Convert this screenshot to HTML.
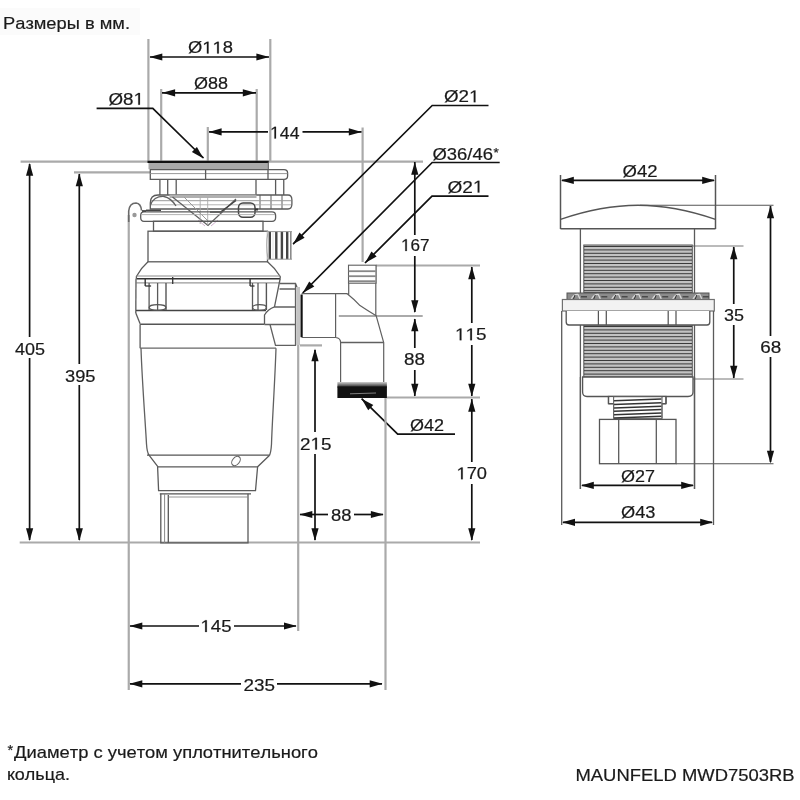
<!DOCTYPE html>
<html><head><meta charset="utf-8"><style>
html,body{margin:0;padding:0;background:#fff;}
svg{display:block;filter:blur(0.45px);}
text{font-family:"Liberation Sans",sans-serif;font-kerning:none;font-variant-ligatures:none;}
</style></head><body>
<svg width="800" height="800" viewBox="0 0 800 800">
<rect width="800" height="800" fill="#fff"/>
<rect x="0" y="8" width="140" height="27" fill="#fbfbfb"/>
<text x="3.00" y="29" font-size="17" fill="#1a1a1a" stroke="#1a1a1a" stroke-width="0.2" textLength="127.00" lengthAdjust="spacingAndGlyphs">Размеры в мм.</text>
<line x1="148.4" y1="39" x2="148.4" y2="162" stroke="#aaaaaa" stroke-width="2.2" />
<line x1="270.3" y1="39" x2="270.3" y2="162" stroke="#aaaaaa" stroke-width="2.2" />
<line x1="161.2" y1="89" x2="161.2" y2="162" stroke="#aaaaaa" stroke-width="2.2" />
<line x1="256.7" y1="89" x2="256.7" y2="162" stroke="#aaaaaa" stroke-width="2.2" />
<line x1="207.8" y1="127" x2="207.8" y2="162" stroke="#aaaaaa" stroke-width="2.2" />
<line x1="362.6" y1="127.5" x2="362.6" y2="262" stroke="#aaaaaa" stroke-width="2.2" />
<line x1="150" y1="57" x2="269" y2="57" stroke="#111" stroke-width="1.7" />
<polygon points="149.5,57.0 162.3,53.4 162.3,60.6" fill="#111"/>
<polygon points="269.2,57.0 256.4,53.4 256.4,60.6" fill="#111"/>
<path d="M515,0 L515,1237 L197,1010 L197,1180 L530,1409 L696,1409 L696,0 Z" transform="translate(202.308,53.4) scale(0.00898,-0.00830)" fill="#1a1a1a" stroke="#1a1a1a" stroke-width="0.2" vector-effect="non-scaling-stroke"/>
<path d="M515,0 L515,1237 L197,1010 L197,1180 L530,1409 L696,1409 L696,0 Z" transform="translate(212.539,53.4) scale(0.00898,-0.00830)" fill="#1a1a1a" stroke="#1a1a1a" stroke-width="0.2" vector-effect="non-scaling-stroke"/>
<text x="188.00" y="53.4" font-size="17" fill="#1a1a1a" stroke="#1a1a1a" stroke-width="0.2" textLength="45.00" lengthAdjust="spacingAndGlyphs">Ø  8</text>
<line x1="162" y1="92.8" x2="256" y2="92.8" stroke="#111" stroke-width="1.7" />
<polygon points="162.3,92.8 175.1,89.2 175.1,96.4" fill="#111"/>
<polygon points="255.6,92.8 242.8,89.2 242.8,96.4" fill="#111"/>
<text x="194.00" y="88.5" font-size="17" fill="#1a1a1a" stroke="#1a1a1a" stroke-width="0.2" textLength="34.00" lengthAdjust="spacingAndGlyphs">Ø88</text>
<path d="M96.6,108.4 L152.8,108.4 L203.5,158" stroke="#111" stroke-width="1.7" fill="none" />
<polygon points="203.5,158.5 196.9,146.9 191.9,152.1" fill="#111"/>
<path d="M515,0 L515,1237 L197,1010 L197,1180 L530,1409 L696,1409 L696,0 Z" transform="translate(133.555,104.7) scale(0.00917,-0.00830)" fill="#1a1a1a" stroke="#1a1a1a" stroke-width="0.2" vector-effect="non-scaling-stroke"/>
<text x="108.50" y="104.7" font-size="17" fill="#1a1a1a" stroke="#1a1a1a" stroke-width="0.2" textLength="35.50" lengthAdjust="spacingAndGlyphs">Ø8 </text>
<line x1="209" y1="131.9" x2="268" y2="131.9" stroke="#111" stroke-width="1.7" />
<line x1="302.5" y1="131.9" x2="361.5" y2="131.9" stroke="#111" stroke-width="1.7" />
<polygon points="208.8,131.9 221.6,128.3 221.6,135.5" fill="#111"/>
<polygon points="361.6,131.9 348.8,128.3 348.8,135.5" fill="#111"/>
<path d="M515,0 L515,1237 L197,1010 L197,1180 L530,1409 L696,1409 L696,0 Z" transform="translate(270.000,138.5) scale(0.00863,-0.00830)" fill="#1a1a1a" stroke="#1a1a1a" stroke-width="0.2" vector-effect="non-scaling-stroke"/>
<text x="270.00" y="138.5" font-size="17" fill="#1a1a1a" stroke="#1a1a1a" stroke-width="0.2" textLength="29.50" lengthAdjust="spacingAndGlyphs"> 44</text>
<line x1="20.6" y1="161.6" x2="423" y2="161.6" stroke="#aaaaaa" stroke-width="2.2" />
<line x1="74" y1="172.3" x2="150" y2="172.3" stroke="#aaaaaa" stroke-width="2.2" />
<line x1="19.7" y1="542.5" x2="480" y2="542.5" stroke="#aaaaaa" stroke-width="2.2" />
<line x1="29.6" y1="164" x2="29.6" y2="337" stroke="#111" stroke-width="1.7" />
<line x1="29.6" y1="358" x2="29.6" y2="540" stroke="#111" stroke-width="1.7" />
<polygon points="29.6,163.0 26.0,175.8 33.2,175.8" fill="#111"/>
<polygon points="29.6,541.0 26.0,528.2 33.2,528.2" fill="#111"/>
<text x="15.00" y="354.7" font-size="17" fill="#1a1a1a" stroke="#1a1a1a" stroke-width="0.2" textLength="30.00" lengthAdjust="spacingAndGlyphs">405</text>
<line x1="79.3" y1="174" x2="79.3" y2="364" stroke="#111" stroke-width="1.7" />
<line x1="79.3" y1="385" x2="79.3" y2="540" stroke="#111" stroke-width="1.7" />
<polygon points="79.3,173.5 75.7,186.3 82.9,186.3" fill="#111"/>
<polygon points="79.3,541.0 75.7,528.2 82.9,528.2" fill="#111"/>
<text x="65.00" y="381.7" font-size="17" fill="#1a1a1a" stroke="#1a1a1a" stroke-width="0.2" textLength="30.50" lengthAdjust="spacingAndGlyphs">395</text>
<path d="M488.5,105.5 L432.2,105.5 L293,244.2" stroke="#111" stroke-width="1.7" fill="none" />
<polygon points="293.0,244.2 304.6,237.7 299.5,232.6" fill="#111"/>
<path d="M515,0 L515,1237 L197,1010 L197,1180 L530,1409 L696,1409 L696,0 Z" transform="translate(469.055,102.2) scale(0.00917,-0.00830)" fill="#1a1a1a" stroke="#1a1a1a" stroke-width="0.2" vector-effect="non-scaling-stroke"/>
<text x="444.00" y="102.2" font-size="17" fill="#1a1a1a" stroke="#1a1a1a" stroke-width="0.2" textLength="35.50" lengthAdjust="spacingAndGlyphs">Ø2 </text>
<path d="M499.7,162.5 L432.2,162.5 L302.7,293" stroke="#111" stroke-width="1.7" fill="none" />
<polygon points="302.7,293.0 314.3,286.5 309.2,281.4" fill="#111"/>
<text x="432.50" y="159.5" font-size="17" fill="#1a1a1a" stroke="#1a1a1a" stroke-width="0.2" textLength="60.50" lengthAdjust="spacingAndGlyphs">Ø36/46</text>
<text x="493.6" y="157.2" font-size="13.5" fill="#1a1a1a" stroke="#1a1a1a" stroke-width="0.2">*</text>
<path d="M488.5,196.2 L432,196.2 L365,263" stroke="#111" stroke-width="1.7" fill="none" />
<polygon points="365.0,263.0 376.6,256.5 371.5,251.4" fill="#111"/>
<path d="M515,0 L515,1237 L197,1010 L197,1180 L530,1409 L696,1409 L696,0 Z" transform="translate(472.907,192.5) scale(0.00930,-0.00830)" fill="#1a1a1a" stroke="#1a1a1a" stroke-width="0.2" vector-effect="non-scaling-stroke"/>
<text x="447.50" y="192.5" font-size="17" fill="#1a1a1a" stroke="#1a1a1a" stroke-width="0.2" textLength="36.00" lengthAdjust="spacingAndGlyphs">Ø2 </text>
<line x1="376" y1="265.5" x2="480" y2="265.5" stroke="#aaaaaa" stroke-width="2.2" />
<line x1="338.8" y1="316" x2="422.7" y2="316" stroke="#aaaaaa" stroke-width="2.2" />
<line x1="386.4" y1="397.5" x2="480" y2="397.5" stroke="#aaaaaa" stroke-width="2.2" />
<line x1="300" y1="345.4" x2="322" y2="345.4" stroke="#aaaaaa" stroke-width="2.2" />
<line x1="414.8" y1="162" x2="414.8" y2="235" stroke="#111" stroke-width="1.7" />
<line x1="414.8" y1="256" x2="414.8" y2="312" stroke="#111" stroke-width="1.7" />
<polygon points="414.8,162.0 411.2,174.8 418.4,174.8" fill="#111"/>
<polygon points="414.8,313.0 411.2,300.2 418.4,300.2" fill="#111"/>
<path d="M515,0 L515,1237 L197,1010 L197,1180 L530,1409 L696,1409 L696,0 Z" transform="translate(401.000,251) scale(0.00834,-0.00830)" fill="#1a1a1a" stroke="#1a1a1a" stroke-width="0.2" vector-effect="non-scaling-stroke"/>
<text x="401.00" y="251" font-size="17" fill="#1a1a1a" stroke="#1a1a1a" stroke-width="0.2" textLength="28.50" lengthAdjust="spacingAndGlyphs"> 67</text>
<line x1="414.8" y1="319" x2="414.8" y2="348" stroke="#111" stroke-width="1.7" />
<line x1="414.8" y1="370" x2="414.8" y2="396" stroke="#111" stroke-width="1.7" />
<polygon points="414.8,318.5 411.2,331.3 418.4,331.3" fill="#111"/>
<polygon points="414.8,396.5 411.2,383.7 418.4,383.7" fill="#111"/>
<text x="404.00" y="365.3" font-size="17" fill="#1a1a1a" stroke="#1a1a1a" stroke-width="0.2" textLength="21.00" lengthAdjust="spacingAndGlyphs">88</text>
<line x1="471.8" y1="267" x2="471.8" y2="323" stroke="#111" stroke-width="1.7" />
<line x1="471.8" y1="345" x2="471.8" y2="396" stroke="#111" stroke-width="1.7" />
<polygon points="471.8,266.5 468.2,279.3 475.4,279.3" fill="#111"/>
<polygon points="471.8,396.5 468.2,383.7 475.4,383.7" fill="#111"/>
<path d="M515,0 L515,1237 L197,1010 L197,1180 L530,1409 L696,1409 L696,0 Z" transform="translate(455.000,340.2) scale(0.00922,-0.00830)" fill="#1a1a1a" stroke="#1a1a1a" stroke-width="0.2" vector-effect="non-scaling-stroke"/>
<path d="M515,0 L515,1237 L197,1010 L197,1180 L530,1409 L696,1409 L696,0 Z" transform="translate(465.500,340.2) scale(0.00922,-0.00830)" fill="#1a1a1a" stroke="#1a1a1a" stroke-width="0.2" vector-effect="non-scaling-stroke"/>
<text x="455.00" y="340.2" font-size="17" fill="#1a1a1a" stroke="#1a1a1a" stroke-width="0.2" textLength="31.50" lengthAdjust="spacingAndGlyphs">  5</text>
<line x1="471.8" y1="399" x2="471.8" y2="462" stroke="#111" stroke-width="1.7" />
<line x1="471.8" y1="484" x2="471.8" y2="540" stroke="#111" stroke-width="1.7" />
<polygon points="471.8,399.0 468.2,411.8 475.4,411.8" fill="#111"/>
<polygon points="471.8,541.0 468.2,528.2 475.4,528.2" fill="#111"/>
<path d="M515,0 L515,1237 L197,1010 L197,1180 L530,1409 L696,1409 L696,0 Z" transform="translate(456.500,479.2) scale(0.00893,-0.00830)" fill="#1a1a1a" stroke="#1a1a1a" stroke-width="0.2" vector-effect="non-scaling-stroke"/>
<text x="456.50" y="479.2" font-size="17" fill="#1a1a1a" stroke="#1a1a1a" stroke-width="0.2" textLength="30.50" lengthAdjust="spacingAndGlyphs"> 70</text>
<line x1="315" y1="350" x2="315" y2="432" stroke="#111" stroke-width="1.7" />
<line x1="315" y1="454" x2="315" y2="540" stroke="#111" stroke-width="1.7" />
<polygon points="315.0,348.5 311.4,361.3 318.6,361.3" fill="#111"/>
<polygon points="315.0,541.0 311.4,528.2 318.6,528.2" fill="#111"/>
<path d="M515,0 L515,1237 L197,1010 L197,1180 L530,1409 L696,1409 L696,0 Z" transform="translate(310.500,449.5) scale(0.00922,-0.00830)" fill="#1a1a1a" stroke="#1a1a1a" stroke-width="0.2" vector-effect="non-scaling-stroke"/>
<text x="300.00" y="449.5" font-size="17" fill="#1a1a1a" stroke="#1a1a1a" stroke-width="0.2" textLength="31.50" lengthAdjust="spacingAndGlyphs">2 5</text>
<line x1="300" y1="514.5" x2="328" y2="514.5" stroke="#111" stroke-width="1.7" />
<line x1="354" y1="514.5" x2="383" y2="514.5" stroke="#111" stroke-width="1.7" />
<polygon points="299.5,514.5 312.3,510.9 312.3,518.1" fill="#111"/>
<polygon points="383.7,514.5 370.9,510.9 370.9,518.1" fill="#111"/>
<text x="331.00" y="520.5" font-size="17" fill="#1a1a1a" stroke="#1a1a1a" stroke-width="0.2" textLength="20.50" lengthAdjust="spacingAndGlyphs">88</text>
<path d="M455,434.2 L397.7,434.2 L361.6,398.7" stroke="#111" stroke-width="1.7" fill="none" />
<polygon points="361.6,398.7 368.2,410.2 373.3,405.1" fill="#111"/>
<text x="410.00" y="430.6" font-size="17" fill="#1a1a1a" stroke="#1a1a1a" stroke-width="0.2" textLength="34.00" lengthAdjust="spacingAndGlyphs">Ø42</text>
<line x1="298.2" y1="345" x2="298.2" y2="631" stroke="#aaaaaa" stroke-width="2.2" />
<line x1="385.5" y1="397" x2="385.5" y2="690" stroke="#aaaaaa" stroke-width="2.2" />
<line x1="128.75" y1="215" x2="128.75" y2="690" stroke="#aaaaaa" stroke-width="2.2" />
<line x1="130" y1="626" x2="199" y2="626" stroke="#111" stroke-width="1.7" />
<line x1="234" y1="626" x2="296" y2="626" stroke="#111" stroke-width="1.7" />
<polygon points="129.5,626.0 142.3,622.4 142.3,629.6" fill="#111"/>
<polygon points="296.8,626.0 284.0,622.4 284.0,629.6" fill="#111"/>
<path d="M515,0 L515,1237 L197,1010 L197,1180 L530,1409 L696,1409 L696,0 Z" transform="translate(200.500,632) scale(0.00907,-0.00830)" fill="#1a1a1a" stroke="#1a1a1a" stroke-width="0.2" vector-effect="non-scaling-stroke"/>
<text x="200.50" y="632" font-size="17" fill="#1a1a1a" stroke="#1a1a1a" stroke-width="0.2" textLength="31.00" lengthAdjust="spacingAndGlyphs"> 45</text>
<line x1="130" y1="683.8" x2="241" y2="683.8" stroke="#111" stroke-width="1.7" />
<line x1="277" y1="683.8" x2="382" y2="683.8" stroke="#111" stroke-width="1.7" />
<polygon points="129.5,683.8 142.3,680.2 142.3,687.4" fill="#111"/>
<polygon points="382.5,683.8 369.7,680.2 369.7,687.4" fill="#111"/>
<text x="243.50" y="690.5" font-size="17" fill="#1a1a1a" stroke="#1a1a1a" stroke-width="0.2" textLength="31.50" lengthAdjust="spacingAndGlyphs">235</text>
<text x="14.00" y="757.5" font-size="17" fill="#1a1a1a" stroke="#1a1a1a" stroke-width="0.2" textLength="304.00" lengthAdjust="spacingAndGlyphs">Диаметр с учетом уплотнительного</text>
<text x="7.4" y="754.6" font-size="14.5" fill="#1a1a1a" stroke="#1a1a1a" stroke-width="0.2">*</text>
<text x="7.00" y="779.5" font-size="17" fill="#1a1a1a" stroke="#1a1a1a" stroke-width="0.2" textLength="63.00" lengthAdjust="spacingAndGlyphs">кольца.</text>
<text x="575.50" y="780.5" font-size="17" fill="#1a1a1a" stroke="#1a1a1a" stroke-width="0.2" textLength="219.00" lengthAdjust="spacingAndGlyphs">MAUNFELD MWD7503RB</text>
<line x1="560.5" y1="175" x2="560.5" y2="229" stroke="#555" stroke-width="1.5" />
<line x1="715.5" y1="175" x2="715.5" y2="229" stroke="#555" stroke-width="1.5" />
<line x1="562" y1="180.4" x2="714" y2="180.4" stroke="#111" stroke-width="1.7" />
<polygon points="561.0,180.4 573.8,176.8 573.8,184.0" fill="#111"/>
<polygon points="715.0,180.4 702.2,176.8 702.2,184.0" fill="#111"/>
<text x="622.50" y="177.4" font-size="17" fill="#1a1a1a" stroke="#1a1a1a" stroke-width="0.2" textLength="35.00" lengthAdjust="spacingAndGlyphs">Ø42</text>
<path d="M560.5,219.3 C592,208.5 615,205.2 638,205.2 C661,205.2 684,208.5 715.5,219.3" stroke="#555" stroke-width="1.4" fill="none" />
<line x1="560.5" y1="228.7" x2="715.5" y2="228.7" stroke="#555" stroke-width="1.6" />
<line x1="640" y1="205.2" x2="773.5" y2="205.2" stroke="#555" stroke-width="1.1" />
<line x1="693" y1="246" x2="743.5" y2="246" stroke="#777" stroke-width="1.0" />
<line x1="693" y1="379" x2="743.5" y2="379" stroke="#777" stroke-width="1.0" />
<line x1="676" y1="463.7" x2="773.5" y2="463.7" stroke="#555" stroke-width="1.1" />
<line x1="770.5" y1="206" x2="770.5" y2="336" stroke="#111" stroke-width="1.7" />
<line x1="770.5" y1="357" x2="770.5" y2="462" stroke="#111" stroke-width="1.7" />
<polygon points="770.5,205.5 766.9,218.3 774.1,218.3" fill="#111"/>
<polygon points="770.5,463.5 766.9,450.7 774.1,450.7" fill="#111"/>
<text x="760.25" y="352.5" font-size="17" fill="#1a1a1a" stroke="#1a1a1a" stroke-width="0.2" textLength="21.00" lengthAdjust="spacingAndGlyphs">68</text>
<line x1="733.75" y1="247" x2="733.75" y2="304" stroke="#111" stroke-width="1.7" />
<line x1="733.75" y1="325" x2="733.75" y2="378" stroke="#111" stroke-width="1.7" />
<polygon points="733.8,246.5 730.1,259.3 737.4,259.3" fill="#111"/>
<polygon points="733.8,378.5 730.1,365.7 737.4,365.7" fill="#111"/>
<text x="724.00" y="321" font-size="17" fill="#1a1a1a" stroke="#1a1a1a" stroke-width="0.2" textLength="20.00" lengthAdjust="spacingAndGlyphs">35</text>
<line x1="580.4" y1="229" x2="580.4" y2="489" stroke="#5a5a5a" stroke-width="1.3" />
<line x1="694.5" y1="229" x2="694.5" y2="489" stroke="#5a5a5a" stroke-width="1.3" />
<rect x="583.8" y="245" width="108.5" height="47.5" rx="0" stroke="#555" stroke-width="1.0" fill="#c2c2c2"/>
<line x1="584" y1="246.5" x2="692" y2="246.5" stroke="#3a3a3a" stroke-width="1.0" />
<line x1="584" y1="249.9" x2="692" y2="249.9" stroke="#3a3a3a" stroke-width="1.0" />
<line x1="584" y1="253.3" x2="692" y2="253.3" stroke="#3a3a3a" stroke-width="1.0" />
<line x1="584" y1="256.7" x2="692" y2="256.7" stroke="#3a3a3a" stroke-width="1.0" />
<line x1="584" y1="260.1" x2="692" y2="260.1" stroke="#3a3a3a" stroke-width="1.0" />
<line x1="584" y1="263.5" x2="692" y2="263.5" stroke="#3a3a3a" stroke-width="1.0" />
<line x1="584" y1="266.9" x2="692" y2="266.9" stroke="#3a3a3a" stroke-width="1.0" />
<line x1="584" y1="270.3" x2="692" y2="270.3" stroke="#3a3a3a" stroke-width="1.0" />
<line x1="584" y1="273.7" x2="692" y2="273.7" stroke="#3a3a3a" stroke-width="1.0" />
<line x1="584" y1="277.1" x2="692" y2="277.1" stroke="#3a3a3a" stroke-width="1.0" />
<line x1="584" y1="280.5" x2="692" y2="280.5" stroke="#3a3a3a" stroke-width="1.0" />
<line x1="584" y1="283.9" x2="692" y2="283.9" stroke="#3a3a3a" stroke-width="1.0" />
<line x1="584" y1="287.3" x2="692" y2="287.3" stroke="#3a3a3a" stroke-width="1.0" />
<line x1="584" y1="290.7" x2="692" y2="290.7" stroke="#3a3a3a" stroke-width="1.0" />
<rect x="583.8" y="325" width="108.5" height="52" rx="0" stroke="#555" stroke-width="1.0" fill="#c2c2c2"/>
<line x1="584" y1="326.5" x2="692" y2="326.5" stroke="#3a3a3a" stroke-width="1.0" />
<line x1="584" y1="329.9" x2="692" y2="329.9" stroke="#3a3a3a" stroke-width="1.0" />
<line x1="584" y1="333.3" x2="692" y2="333.3" stroke="#3a3a3a" stroke-width="1.0" />
<line x1="584" y1="336.7" x2="692" y2="336.7" stroke="#3a3a3a" stroke-width="1.0" />
<line x1="584" y1="340.1" x2="692" y2="340.1" stroke="#3a3a3a" stroke-width="1.0" />
<line x1="584" y1="343.5" x2="692" y2="343.5" stroke="#3a3a3a" stroke-width="1.0" />
<line x1="584" y1="346.9" x2="692" y2="346.9" stroke="#3a3a3a" stroke-width="1.0" />
<line x1="584" y1="350.3" x2="692" y2="350.3" stroke="#3a3a3a" stroke-width="1.0" />
<line x1="584" y1="353.7" x2="692" y2="353.7" stroke="#3a3a3a" stroke-width="1.0" />
<line x1="584" y1="357.1" x2="692" y2="357.1" stroke="#3a3a3a" stroke-width="1.0" />
<line x1="584" y1="360.5" x2="692" y2="360.5" stroke="#3a3a3a" stroke-width="1.0" />
<line x1="584" y1="363.9" x2="692" y2="363.9" stroke="#3a3a3a" stroke-width="1.0" />
<line x1="584" y1="367.3" x2="692" y2="367.3" stroke="#3a3a3a" stroke-width="1.0" />
<line x1="584" y1="370.7" x2="692" y2="370.7" stroke="#3a3a3a" stroke-width="1.0" />
<line x1="584" y1="374.1" x2="692" y2="374.1" stroke="#3a3a3a" stroke-width="1.0" />
<rect x="567" y="293" width="142" height="6.6" rx="0" stroke="#555" stroke-width="1.0" fill="#8c8c8c"/>
<path d="M571.0,299.5 Q574.0,294 578.0,294.5 L580.0,299" stroke="#d8d8d8" stroke-width="1.3" fill="none" />
<line x1="581.0" y1="296.8" x2="587.0" y2="296.8" stroke="#3a3a3a" stroke-width="1.2" />
<line x1="573.5" y1="299" x2="575.0" y2="295" stroke="#333" stroke-width="1.0" />
<path d="M591.3,299.5 Q594.3,294 598.3,294.5 L600.3,299" stroke="#d8d8d8" stroke-width="1.3" fill="none" />
<line x1="601.3" y1="296.8" x2="607.3" y2="296.8" stroke="#3a3a3a" stroke-width="1.2" />
<line x1="593.8" y1="299" x2="595.3" y2="295" stroke="#333" stroke-width="1.0" />
<path d="M611.6,299.5 Q614.6,294 618.6,294.5 L620.6,299" stroke="#d8d8d8" stroke-width="1.3" fill="none" />
<line x1="621.6" y1="296.8" x2="627.6" y2="296.8" stroke="#3a3a3a" stroke-width="1.2" />
<line x1="614.1" y1="299" x2="615.6" y2="295" stroke="#333" stroke-width="1.0" />
<path d="M631.9,299.5 Q634.9,294 638.9,294.5 L640.9,299" stroke="#d8d8d8" stroke-width="1.3" fill="none" />
<line x1="641.9" y1="296.8" x2="647.9" y2="296.8" stroke="#3a3a3a" stroke-width="1.2" />
<line x1="634.4" y1="299" x2="635.9" y2="295" stroke="#333" stroke-width="1.0" />
<path d="M652.2,299.5 Q655.2,294 659.2,294.5 L661.2,299" stroke="#d8d8d8" stroke-width="1.3" fill="none" />
<line x1="662.2" y1="296.8" x2="668.2" y2="296.8" stroke="#3a3a3a" stroke-width="1.2" />
<line x1="654.7" y1="299" x2="656.2" y2="295" stroke="#333" stroke-width="1.0" />
<path d="M672.5,299.5 Q675.5,294 679.5,294.5 L681.5,299" stroke="#d8d8d8" stroke-width="1.3" fill="none" />
<line x1="682.5" y1="296.8" x2="688.5" y2="296.8" stroke="#3a3a3a" stroke-width="1.2" />
<line x1="675.0" y1="299" x2="676.5" y2="295" stroke="#333" stroke-width="1.0" />
<path d="M692.8,299.5 Q695.8,294 699.8,294.5 L701.8,299" stroke="#d8d8d8" stroke-width="1.3" fill="none" />
<line x1="702.8" y1="296.8" x2="708.8" y2="296.8" stroke="#3a3a3a" stroke-width="1.2" />
<line x1="695.3" y1="299" x2="696.8" y2="295" stroke="#333" stroke-width="1.0" />
<rect x="562.4" y="299.5" width="151.9" height="11.5" rx="0" stroke="#707070" stroke-width="1.2" fill="#f2f2f2"/>
<path d="M566.2,311 L566.2,322 Q566.2,325 569,325 L707,325 Q709.8,325 709.8,322 L709.8,311" stroke="#555555" stroke-width="1.3" fill="#fff" />
<line x1="598.4" y1="311" x2="598.4" y2="325" stroke="#555555" stroke-width="1.25" />
<line x1="606.3" y1="311" x2="606.3" y2="325" stroke="#555555" stroke-width="1.25" />
<line x1="668.2" y1="311" x2="668.2" y2="325" stroke="#555555" stroke-width="1.25" />
<line x1="676" y1="311" x2="676" y2="325" stroke="#555555" stroke-width="1.25" />
<path d="M582.6,377 L693,377 L693,392 Q693,396.5 688,396.5 L587,396.5 Q582.6,396.5 582.6,392 Z" stroke="#555555" stroke-width="1.3" fill="#fff" />
<line x1="580.4" y1="377" x2="580.4" y2="489" stroke="#5a5a5a" stroke-width="1.3" />
<line x1="694.5" y1="377" x2="694.5" y2="489" stroke="#5a5a5a" stroke-width="1.3" />
<rect x="608.5" y="396.5" width="57.5" height="7.2" rx="0" stroke="#555555" stroke-width="1.3" fill="#fff"/>
<rect x="613.6" y="397" width="48.4" height="21.4" rx="0" stroke="#666" stroke-width="1.0" fill="#fff"/>
<rect x="609.5" y="397.5" width="55.5" height="5.5" fill="#fff"/>
<line x1="608.5" y1="396.5" x2="608.5" y2="403.7" stroke="#555555" stroke-width="1.3" />
<line x1="666" y1="396.5" x2="666" y2="403.7" stroke="#555555" stroke-width="1.3" />
<line x1="608.5" y1="403.7" x2="613.6" y2="403.7" stroke="#555555" stroke-width="1.3" />
<line x1="662" y1="403.7" x2="666" y2="403.7" stroke="#555555" stroke-width="1.3" />
<line x1="614" y1="400.8" x2="661.5" y2="399.0" stroke="#333" stroke-width="1.4" />
<line x1="614" y1="404.5" x2="661.5" y2="402.7" stroke="#333" stroke-width="1.4" />
<line x1="614" y1="408" x2="661.5" y2="406.2" stroke="#333" stroke-width="1.4" />
<line x1="614" y1="411.3" x2="661.5" y2="409.5" stroke="#333" stroke-width="1.4" />
<line x1="614" y1="414.8" x2="661.5" y2="413.0" stroke="#333" stroke-width="1.4" />
<line x1="614" y1="418" x2="661.5" y2="416.2" stroke="#333" stroke-width="1.4" />
<line x1="613.6" y1="397" x2="613.6" y2="418.4" stroke="#666" stroke-width="1.1" />
<line x1="662" y1="397" x2="662" y2="418.4" stroke="#666" stroke-width="1.1" />
<rect x="599.5" y="419.4" width="76.5" height="44.3" rx="0" stroke="#555555" stroke-width="1.3" fill="#fff"/>
<line x1="618.7" y1="419.4" x2="618.7" y2="463.7" stroke="#555555" stroke-width="1.25" />
<line x1="656.3" y1="419.4" x2="656.3" y2="463.7" stroke="#555555" stroke-width="1.25" />
<line x1="561.7" y1="311" x2="561.7" y2="525" stroke="#5a5a5a" stroke-width="1.3" />
<line x1="713.5" y1="311" x2="713.5" y2="525" stroke="#5a5a5a" stroke-width="1.3" />
<line x1="582" y1="485.4" x2="693" y2="485.4" stroke="#111" stroke-width="1.7" />
<polygon points="581.0,485.4 593.8,481.8 593.8,489.0" fill="#111"/>
<polygon points="694.0,485.4 681.2,481.8 681.2,489.0" fill="#111"/>
<text x="621.00" y="482.4" font-size="17" fill="#1a1a1a" stroke="#1a1a1a" stroke-width="0.2" textLength="34.00" lengthAdjust="spacingAndGlyphs">Ø27</text>
<line x1="563" y1="522.3" x2="712" y2="522.3" stroke="#111" stroke-width="1.7" />
<polygon points="562.2,522.3 575.0,518.7 575.0,525.9" fill="#111"/>
<polygon points="713.0,522.3 700.2,518.7 700.2,525.9" fill="#111"/>
<text x="621.00" y="517.8" font-size="17" fill="#1a1a1a" stroke="#1a1a1a" stroke-width="0.2" textLength="34.50" lengthAdjust="spacingAndGlyphs">Ø43</text>
<rect x="148.5" y="162.6" width="120" height="6.6" fill="#a9a9a9"/>
<line x1="147.5" y1="161.8" x2="268.8" y2="161.8" stroke="#111" stroke-width="2.2" />
<line x1="268.3" y1="161.8" x2="268.3" y2="169.3" stroke="#5a5a5a" stroke-width="1.0" />
<path d="M150.3,169.6 L284,169.6 Q287.6,169.6 287.6,173 L287.6,176 Q287.6,179.3 284,179.3 L150.3,179.3 Z" stroke="#5a5a5a" stroke-width="1.3" fill="none" />
<line x1="150.3" y1="173.6" x2="287.4" y2="173.6" stroke="#999" stroke-width="1.0" />
<line x1="205.6" y1="169.6" x2="205.6" y2="179.3" stroke="#5a5a5a" stroke-width="1.3" />
<line x1="268" y1="169.6" x2="268" y2="179.3" stroke="#5a5a5a" stroke-width="1.3" />
<line x1="159.9" y1="179.3" x2="159.9" y2="195" stroke="#5a5a5a" stroke-width="1.3" />
<line x1="167.7" y1="179.3" x2="167.7" y2="195" stroke="#5a5a5a" stroke-width="1.3" />
<line x1="176.2" y1="179.3" x2="176.2" y2="195" stroke="#5a5a5a" stroke-width="1.3" />
<line x1="256" y1="179.3" x2="256" y2="195" stroke="#5a5a5a" stroke-width="1.3" />
<line x1="275.6" y1="179.3" x2="275.6" y2="195" stroke="#5a5a5a" stroke-width="1.3" />
<line x1="283.75" y1="179.3" x2="283.75" y2="195" stroke="#5a5a5a" stroke-width="1.3" />
<path d="M158,195 L288,195 Q291.9,195 291.9,200 L291.9,204 Q291.9,209 288,209 L150.3,209 L150.3,203 Q150.3,195 158,195 Z" stroke="#5a5a5a" stroke-width="1.3" fill="none" />
<rect x="169.5" y="194.6" width="87" height="3.4" fill="#b0b0b0"/>
<line x1="260" y1="195" x2="260" y2="209" stroke="#5a5a5a" stroke-width="1.0" />
<line x1="271" y1="195" x2="271" y2="209" stroke="#5a5a5a" stroke-width="1.0" />
<line x1="282" y1="195" x2="282" y2="209" stroke="#5a5a5a" stroke-width="1.0" />
<line x1="151" y1="200.7" x2="291" y2="200.7" stroke="#9a9a9a" stroke-width="1.0" />
<line x1="151" y1="204.8" x2="291" y2="204.8" stroke="#aaa" stroke-width="0.9" />
<path d="M150.5,205 Q154,196 164,196.5 Q171,198 176,206" stroke="#606060" stroke-width="1.3" fill="none" />
<path d="M172.5,197 L208,225.5 L236,199" stroke="#606060" stroke-width="1.3" fill="none" />
<path d="M184,197 L208.5,221.5" stroke="#9a9a9a" stroke-width="1.0" fill="none" />
<line x1="200.2" y1="197" x2="200.2" y2="224" stroke="#aaa" stroke-width="0.9" />
<line x1="207.7" y1="197" x2="207.7" y2="225" stroke="#aaa" stroke-width="0.9" />
<path d="M210,212 L220.5,212 L236,200.5" stroke="#444" stroke-width="1.4" fill="none" />
<path d="M198,220 L205,226 M218,220 L211,226" stroke="#c9a9c9" stroke-width="0.9" fill="none" />
<rect x="238.5" y="203" width="16.5" height="14.2" rx="4.5" stroke="#444" stroke-width="1.5" fill="none"/>
<line x1="255" y1="209.5" x2="258" y2="209.5" stroke="#333" stroke-width="2.0" />
<path d="M144,211.8 L272,211.8 Q275.6,211.8 275.6,215.5 L275.6,217.8 Q275.6,221.3 272,221.3 L144,221.3 Q140.7,221.3 140.7,217.8 L140.7,215.5 Q140.7,211.8 144,211.8 Z" stroke="#5a5a5a" stroke-width="1.3" fill="none" />
<line x1="141" y1="214.6" x2="275" y2="214.6" stroke="#aaa" stroke-width="0.9" />
<line x1="146" y1="210.3" x2="161" y2="210.3" stroke="#444" stroke-width="1.5" />
<path d="M128.7,222 L128.7,211 Q129.5,203 136,203 Q141,203.5 141.5,210.5" stroke="#6a6a6a" stroke-width="1.6" fill="none" />
<circle cx="134.5" cy="215" r="2.2" fill="#999"/>
<line x1="142" y1="211" x2="146" y2="211" stroke="#444" stroke-width="1.8" />
<rect x="153.5" y="221.3" width="109.5" height="9.9" rx="0" stroke="#5a5a5a" stroke-width="1.3" fill="none"/>
<rect x="148" y="231.2" width="119.5" height="30.6" rx="0" stroke="#5a5a5a" stroke-width="1.3" fill="none"/>
<path d="M148,261.8 Q141,268 136.4,276.5 L136.4,278.5 M267.5,261.8 Q275,268 280.2,276.5 L280.2,278.5" stroke="#5a5a5a" stroke-width="1.3" fill="none" />
<line x1="136.4" y1="276" x2="280.2" y2="276" stroke="#8a8a8a" stroke-width="1.0" />
<line x1="136.4" y1="278.8" x2="280.2" y2="278.8" stroke="#333" stroke-width="1.5" />
<line x1="136.4" y1="282.8" x2="280.2" y2="282.8" stroke="#9a9a9a" stroke-width="1.3" />
<path d="M136,278.5 L135.8,313" stroke="#5a5a5a" stroke-width="1.3" fill="none" />
<path d="M280.2,278.5 L274.5,306.8 Q268,309 264.5,315 L264.5,324.3" stroke="#5a5a5a" stroke-width="1.3" fill="none" />
<line x1="136" y1="310.6" x2="266" y2="310.6" stroke="#444" stroke-width="1.5" />
<line x1="145.2" y1="279" x2="145.2" y2="286" stroke="#333" stroke-width="1.4" />
<line x1="149.1" y1="283" x2="149.1" y2="310" stroke="#5a5a5a" stroke-width="1.3" />
<line x1="157.6" y1="283" x2="157.6" y2="310" stroke="#5a5a5a" stroke-width="1.3" />
<line x1="166.0" y1="283" x2="166.0" y2="310" stroke="#555" stroke-width="1.4" />
<ellipse cx="157.55" cy="307.5" rx="8.450000000000003" ry="2.8" stroke="#555" stroke-width="1.2" fill="none"/>
<line x1="145.2" y1="286" x2="151.1" y2="286" stroke="#333" stroke-width="1.3" />
<line x1="250.1" y1="279" x2="250.1" y2="286" stroke="#333" stroke-width="1.4" />
<line x1="252.5" y1="283" x2="252.5" y2="310" stroke="#5a5a5a" stroke-width="1.3" />
<line x1="258" y1="283" x2="258" y2="310" stroke="#5a5a5a" stroke-width="1.3" />
<line x1="266.4" y1="283" x2="266.4" y2="310" stroke="#555" stroke-width="1.4" />
<ellipse cx="259.45" cy="307.5" rx="6.949999999999989" ry="2.8" stroke="#555" stroke-width="1.2" fill="none"/>
<line x1="250.1" y1="286" x2="254.5" y2="286" stroke="#333" stroke-width="1.3" />
<line x1="172.7" y1="277" x2="172.7" y2="284" stroke="#333" stroke-width="1.3" />
<path d="M135.8,313 L140.1,323.8" stroke="#5a5a5a" stroke-width="1.3" fill="none" />
<line x1="140.1" y1="324.2" x2="264.5" y2="324.2" stroke="#555" stroke-width="1.5" />
<line x1="140.1" y1="324.2" x2="140.1" y2="348.2" stroke="#5a5a5a" stroke-width="1.3" />
<path d="M280,283.5 L295.5,283.5 L297,287 M279.5,289 L295.5,289 M295.5,283.5 L295.5,345.3 L275.5,345.3 L270,324.5 M264.5,324.5 L295.5,324.5 M274.5,307 L295.5,307" stroke="#606060" stroke-width="1.3" fill="none" />
<rect x="296.2" y="287" width="3.8" height="58" fill="#c4c4c4"/>
<line x1="301.6" y1="294.5" x2="301.6" y2="337.2" stroke="#111" stroke-width="2.2" />
<line x1="140.1" y1="348.2" x2="276" y2="348.2" stroke="#666" stroke-width="1.2" />
<path d="M141,348.2 C142,380 145.5,425 146.5,444 Q147,452 149,455.2" stroke="#606060" stroke-width="1.3" fill="none" />
<path d="M276,348.2 C275,380 272,425 271.5,444 Q271,452 269.6,455.2" stroke="#606060" stroke-width="1.3" fill="none" />
<line x1="147" y1="455.2" x2="269.6" y2="455.2" stroke="#555" stroke-width="1.3" />
<path d="M149,455.2 L158,466.8 L257.6,466.8 L269.6,455.2" stroke="#5a5a5a" stroke-width="1.3" fill="none" />
<ellipse cx="236" cy="461" rx="3.5" ry="5.2" transform="rotate(40 236 461)" stroke="#666" stroke-width="1.1" fill="none"/>
<path d="M157.6,466.8 L158.6,490.7 L255.5,490.7 L257.6,466.8" stroke="#5a5a5a" stroke-width="1.3" fill="none" />
<line x1="159.8" y1="493.8" x2="251" y2="493.8" stroke="#555" stroke-width="1.3" />
<path d="M160.8,493.8 L160.8,542.8 L248,542.8 L248,493.8" stroke="#5a5a5a" stroke-width="1.3" fill="none" />
<line x1="164.6" y1="493.8" x2="164.6" y2="542.8" stroke="#888" stroke-width="1.0" />
<line x1="168.3" y1="495" x2="168.3" y2="542.8" stroke="#555" stroke-width="1.3" />
<line x1="168.3" y1="497" x2="248" y2="497" stroke="#888" stroke-width="0.9" />
<rect x="266.8" y="231.3" width="25.5" height="28.1" fill="#fff"/>
<line x1="269.8" y1="231.5" x2="269.8" y2="259.2" stroke="#454545" stroke-width="2.4" />
<line x1="276.3" y1="231.5" x2="276.3" y2="259.2" stroke="#454545" stroke-width="2.4" />
<line x1="281.9" y1="231.5" x2="281.9" y2="259.2" stroke="#454545" stroke-width="2.4" />
<line x1="287.2" y1="231.5" x2="287.2" y2="259.2" stroke="#454545" stroke-width="2.4" />
<line x1="290.8" y1="231.5" x2="290.8" y2="259.2" stroke="#8a8a8a" stroke-width="1.6" />
<line x1="267" y1="231.6" x2="292" y2="231.6" stroke="#999" stroke-width="1.0" />
<line x1="267" y1="259.2" x2="292" y2="259.2" stroke="#999" stroke-width="1.0" />
<path d="M268,232 Q265.5,245 268,259" stroke="#aaa" stroke-width="1.2" fill="none" />
<line x1="273" y1="232" x2="273" y2="259" stroke="#ddd" stroke-width="0.8" />
<path d="M301.6,293.7 L347.5,293.7 M335.6,293.7 L335.6,337.5 M301.6,337.5 L335.6,337.5 Q340.6,338 340.6,342.5 L340.6,385" stroke="#606060" stroke-width="1.2" fill="none" />
<line x1="340.6" y1="342.5" x2="383.7" y2="342.5" stroke="#606060" stroke-width="1.3" />
<path d="M348.7,265.2 L348.7,294 L347.5,294 Q355,300 360,305.6 Q368,311 376.2,315.8 L383.7,342.5 L383.7,385" stroke="#606060" stroke-width="1.2" fill="none" />
<line x1="375.8" y1="265.2" x2="375.8" y2="315.8" stroke="#606060" stroke-width="1.2" />
<rect x="348.5" y="265.2" width="27.5" height="18" rx="0" stroke="#606060" stroke-width="1.1" fill="#fff"/>
<line x1="348.7" y1="271.2" x2="375.8" y2="271.2" stroke="#888" stroke-width="1.8" />
<line x1="348.7" y1="276.2" x2="375.8" y2="276.2" stroke="#888" stroke-width="1.8" />
<line x1="348.7" y1="281.2" x2="375.8" y2="281.2" stroke="#888" stroke-width="1.8" />
<defs><linearGradient id="gk" x1="0" y1="0" x2="0" y2="1"><stop offset="0" stop-color="#d0d0d0"/><stop offset="1" stop-color="#1a1a1a"/></linearGradient></defs>
<rect x="337.4" y="382" width="49.5" height="5.5" fill="url(#gk)"/>
<rect x="337.4" y="386.5" width="49.5" height="11.5" fill="#111"/>
<line x1="350" y1="393.8" x2="376" y2="393" stroke="#8a8a8a" stroke-width="0.9" />
</svg></body></html>
